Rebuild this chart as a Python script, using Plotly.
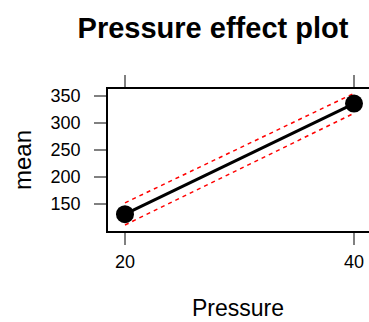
import plotly.graph_objects as go

pressure = [20, 40]
mean = [131, 336]
lower = [111, 318]
upper = [152, 355]
x_ticks = [20, 40]
y_ticks = [150, 200, 250, 300, 350]

W, H = 369, 322
L, R, T, B = 108, 0, 89, 91
pw, ph = W - L - R, H - T - B

def px(x):  # pixel -> paper x
    return (x - L) / pw

def py(y):  # pixel -> paper y
    return (H - B - y) / ph

fig = go.Figure()
fig.add_trace(go.Scatter(x=pressure, y=upper, mode="lines",
                         line=dict(color="red", width=1.5, dash="4px,4px"), hoverinfo="skip"))
fig.add_trace(go.Scatter(x=pressure, y=lower, mode="lines",
                         line=dict(color="red", width=1.5, dash="4px,4px"), hoverinfo="skip"))
fig.add_trace(go.Scatter(x=pressure, y=mean, mode="lines+markers",
                         line=dict(color="black", width=3),
                         marker=dict(color="black", size=18)))

font = "Liberation Sans, Arial, sans-serif"
fig.update_layout(
    width=W, height=H,
    margin=dict(l=L, r=R, t=T, b=B),
    paper_bgcolor="white", plot_bgcolor="white",
    showlegend=False,
    font=dict(family=font, color="black"),
    title=dict(text="<b>Pressure effect plot</b>", x=213/W, xanchor="center",
               xref="container", yref="container", y=1-28/H, yanchor="middle",
               font=dict(size=29, family=font, color="black")),
    annotations=[
        dict(text="mean", x=px(22), y=py(160), xref="paper", yref="paper",
             showarrow=False, textangle=-90, xanchor="center", yanchor="middle",
             font=dict(size=24, color="black")),
        dict(text="Pressure", x=px(238), y=py(308), xref="paper", yref="paper",
             showarrow=False, xanchor="center", yanchor="middle",
             font=dict(size=23, color="black")),
    ],
)
fig.update_xaxes(range=[18.515, 41.31], tickvals=x_ticks, ticks="outside", ticklen=12,
                 tickcolor="#808080", tickwidth=1.5, showline=True, linecolor="black",
                 linewidth=1.5, mirror="ticks", showgrid=False, zeroline=False,
                 automargin=False, ticklabeloverflow="allow",
                 tickfont=dict(size=18, color="black"), ticklabelstandoff=2)
fig.update_yaxes(range=[99.8, 363], tickvals=y_ticks, ticks="outside", ticklen=12,
                 tickcolor="#808080", tickwidth=1.5, showline=True, linecolor="black",
                 linewidth=1.5, mirror=False, showgrid=False, zeroline=False,
                 automargin=False,
                 tickfont=dict(size=18, color="black"), ticklabelstandoff=10)

fig.write_html(
    "out.html",
    config={"displayModeBar": False},
    post_script="document.body.style.margin='0px';document.body.style.overflow='hidden';",
)
